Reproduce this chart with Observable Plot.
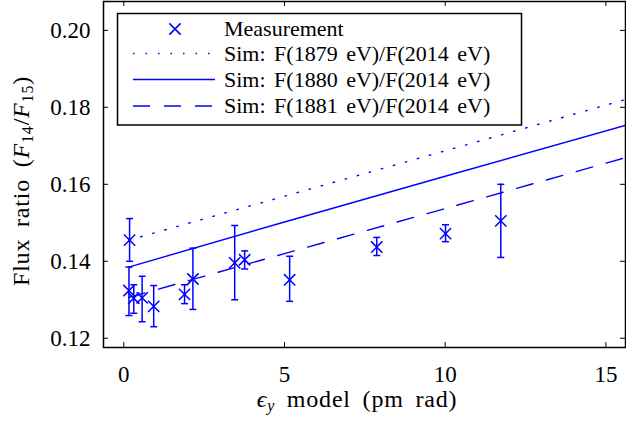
<!DOCTYPE html>
<html>
<head>
<meta charset="utf-8">
<script src="https://cdn.jsdelivr.net/npm/d3@7"></script>
<script src="https://cdn.jsdelivr.net/npm/@observablehq/plot@0.6"></script>
<style>
  html, body { margin: 0; padding: 0; background: #fff; }
  #chart svg { display: block; }
  #chart svg, #chart svg text { font-family: "Liberation Serif", "DejaVu Serif", serif !important; }
</style>
</head>
<body>
<div id="chart"></div>
<script>
// Measurement data (emittance model in pm rad, flux ratio, error-bar limits)
const measX  = [0.16, 0.18, 0.31, 0.57, 0.93, 1.89, 2.15, 3.45, 3.76, 5.16, 7.87, 10.01, 11.73];
const measY  = [0.1324, 0.1455, 0.1304, 0.1305, 0.1283, 0.1314, 0.1354, 0.1396, 0.1404, 0.1352, 0.1437, 0.1472, 0.1505];
const measLo = [0.1259, 0.1400, 0.1265, 0.1243, 0.1230, 0.1290, 0.1275, 0.1300, 0.1380, 0.1296, 0.1415, 0.1451, 0.1410];
const measHi = [0.1385, 0.1511, 0.1339, 0.1361, 0.1337, 0.1339, 0.1434, 0.1493, 0.1427, 0.1413, 0.1462, 0.1495, 0.1600];

// Simulation curves
const simX    = [0.15, 5, 10, 15.6];
const sim1879 = [0.1455, 0.1569, 0.1687, 0.1820];
const sim1880 = [0.1385, 0.1502, 0.1621, 0.1753];
const sim1881 = [0.1306, 0.1420, 0.1537, 0.1669];

const xTicks = [0, 5, 10, 15];
const yTicks = [0.12, 0.14, 0.16, 0.18, 0.20];
const yTickLabels = ["0.12", "0.14", "0.16", "0.18", "0.20"];

const legendLabels = [
  "Measurement",
  "Sim: F(1879 eV)/F(2014 eV)",
  "Sim: F(1880 eV)/F(2014 eV)",
  "Sim: F(1881 eV)/F(2014 eV)"
];

const meas = measX.map((x, i) => ({x, y: measY[i], lo: measLo[i], hi: measHi[i]}));
const sims = [
  {name: "1879", vals: sim1879, dash: "1.5,11"},
  {name: "1880", vals: sim1880, dash: null},
  {name: "1881", vals: sim1881, dash: "17,14"}
];

const W = 626, H = 430;
const mL = 103, mR = 1, mT = 1, mB = 83;
const BLUE = "#0000ff";
const FONT = "Liberation Serif, DejaVu Serif, serif";

const capSymbol = {draw(ctx) { ctx.moveTo(-3.5, 0); ctx.lineTo(3.5, 0); }};

const plotH = H - mT - mB;
const plotW = W - mL - mR;

const plot = Plot.plot({
  width: W, height: H,
  marginLeft: mL, marginRight: mR, marginTop: mT, marginBottom: mB,
  style: {fontFamily: FONT, fontSize: "23px", color: "black", background: "white"},
  x: {domain: [-0.632, 15.61], label: null},
  y: {domain: [0.1176, 0.2075], label: null},
  marks: [
    ...sims.map(s => Plot.line(simX.map((x, i) => ({x, y: s.vals[i]})), {
      x: "x", y: "y", stroke: BLUE, strokeWidth: 1.4,
      strokeDasharray: s.dash, clip: true
    })),
    Plot.ruleX(meas, {x: "x", y1: "lo", y2: "hi", stroke: BLUE, strokeWidth: 1.5}),
    Plot.dot(meas, {x: "x", y: "lo", symbol: capSymbol, r: 3, stroke: BLUE, fill: "none", strokeWidth: 1.5}),
    Plot.dot(meas, {x: "x", y: "hi", symbol: capSymbol, r: 3, stroke: BLUE, fill: "none", strokeWidth: 1.5}),
    Plot.dot(meas, {x: "x", y: "y", symbol: "times", r: 5.2, stroke: BLUE, strokeWidth: 1.5}),
    Plot.ruleX(xTicks, {insetTop: plotH - 5, stroke: "black", strokeWidth: 1}),
    Plot.ruleX(xTicks, {insetBottom: plotH - 5, stroke: "black", strokeWidth: 1}),
    Plot.ruleY(yTicks, {insetRight: plotW - 5, stroke: "black", strokeWidth: 1}),
    Plot.ruleY(yTicks, {insetLeft: plotW - 5, stroke: "black", strokeWidth: 1}),
    Plot.axisX(xTicks, {tickSize: 0, tickPadding: 18, fontSize: 23}),
    Plot.axisY(yTicks, {tickSize: 0, tickPadding: 13, fontSize: 23, tickFormat: d => yTickLabels[yTicks.indexOf(d)]}),
    Plot.frame({stroke: "black", strokeWidth: 1.5})
  ]
});

document.getElementById("chart").appendChild(plot);

const svg = d3.select(plot);

// Axis titles
const xl = svg.append("text")
  .attr("x", 357).attr("y", 407)
  .attr("text-anchor", "middle")
  .attr("font-family", FONT).attr("font-size", 24).attr("fill", "black")
  .attr("letter-spacing", 0.8).attr("word-spacing", 5);
xl.append("tspan").attr("font-style", "italic").text("ϵ");
xl.append("tspan").attr("font-style", "italic").attr("font-size", 16).attr("dy", 4).text("y");
xl.append("tspan").attr("dy", -4).text(" model (pm rad)");

const yl = svg.append("text")
  .attr("transform", "translate(29,181) rotate(-90)")
  .attr("text-anchor", "middle")
  .attr("font-family", FONT).attr("font-size", 24).attr("fill", "black")
  .attr("letter-spacing", 0.8).attr("word-spacing", 5);
yl.append("tspan").text("Flux ratio (");
yl.append("tspan").attr("font-style", "italic").text("F");
yl.append("tspan").attr("font-size", 16).attr("dy", 4).text("14");
yl.append("tspan").attr("dy", -4).text("/");
yl.append("tspan").attr("font-style", "italic").text("F");
yl.append("tspan").attr("font-size", 16).attr("dy", 4).text("15");
yl.append("tspan").attr("dy", -4).text(")");

// Legend
const lg = svg.append("g");
lg.append("rect")
  .attr("x", 117.5).attr("y", 13.5).attr("width", 404).attr("height", 111.5)
  .attr("fill", "white").attr("stroke", "black").attr("stroke-width", 1.5);
const rowY = [29, 53.5, 79.5, 106];
lg.append("path")
  .attr("d", d3.symbol(d3.symbolTimes, 5.2 * 5.2 * Math.PI)())
  .attr("transform", `translate(175,${rowY[0]})`)
  .attr("fill", "none").attr("stroke", BLUE).attr("stroke-width", 1.5);
sims.forEach((s, i) => {
  lg.append("line")
    .attr("x1", 133).attr("x2", 215)
    .attr("y1", rowY[i + 1]).attr("y2", rowY[i + 1])
    .attr("stroke", BLUE).attr("stroke-width", 1.4)
    .attr("stroke-dasharray", s.dash);
});
legendLabels.forEach((t, i) => {
  lg.append("text")
    .attr("x", 224).attr("y", rowY[i] + 7)
    .attr("text-anchor", "start")
    .attr("font-family", FONT).attr("font-size", 22).attr("fill", "black")
    .attr("word-spacing", 3)
    .text(t);
});
</script>
</body>
</html>
